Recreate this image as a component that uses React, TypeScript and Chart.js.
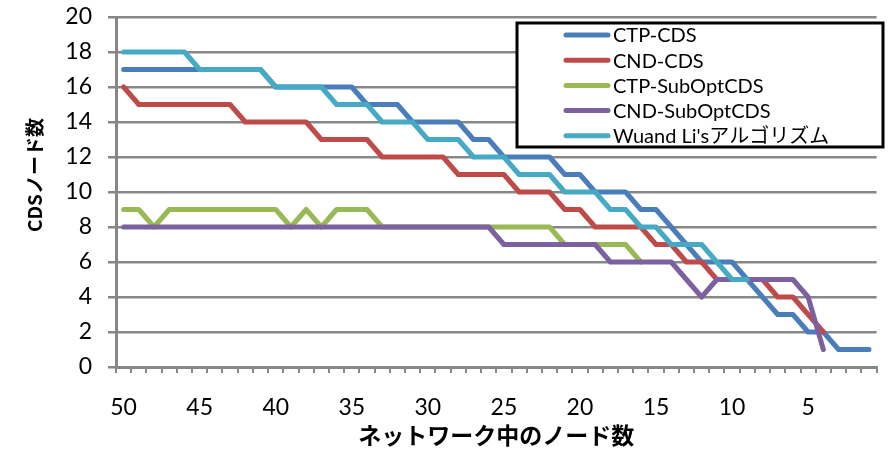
import React, { useEffect, useRef } from "react";
import { Chart, registerables } from "chart.js";

Chart.register(...registerables);

// ネットワーク中のノード数 (x categories, descending)
const nodeCounts = [
  50, 49, 48, 47, 46, 45, 44, 43, 42, 41,
  40, 39, 38, 37, 36, 35, 34, 33, 32, 31,
  30, 29, 28, 27, 26, 25, 24, 23, 22, 21,
  20, 19, 18, 17, 16, 15, 14, 13, 12, 11,
  10, 9, 8, 7, 6, 5, 4, 3, 2, 1,
];
const xTickLabels = [50, 45, 40, 35, 30, 25, 20, 15, 10, 5];
const yTickValues = [0, 2, 4, 6, 8, 10, 12, 14, 16, 18, 20];

const seriesNames = [
  "CTP-CDS",
  "CND-CDS",
  "CTP-SubOptCDS",
  "CND-SubOptCDS",
  "Wuand Li'sアルゴリズム",
];
const seriesColors = ["#4A7EBB", "#BE4B48", "#98B954", "#7D60A0", "#46AAC5"];

const ctpCds = [
  17, 17, 17, 17, 17, 17, 17, 17, 17, 17,
  16, 16, 16, 16, 16, 16, 15, 15, 15, 14,
  14, 14, 14, 13, 13, 12, 12, 12, 12, 11,
  11, 10, 10, 10, 9, 9, 8, 7, 6, 6,
  6, 5, 4, 3, 3, 2, 2, 1, 1, 1,
];
const cndCds = [
  16, 15, 15, 15, 15, 15, 15, 15, 14, 14,
  14, 14, 14, 13, 13, 13, 13, 12, 12, 12,
  12, 12, 11, 11, 11, 11, 10, 10, 10, 9,
  9, 8, 8, 8, 8, 7, 7, 6, 6, 5,
  5, 5, 5, 4, 4, 3, 2, null, null, null,
];
const ctpSubOpt = [
  9, 9, 8, 9, 9, 9, 9, 9, 9, 9,
  9, 8, 9, 8, 9, 9, 9, 8, 8, 8,
  8, 8, 8, 8, 8, 8, 8, 8, 8, 7,
  7, 7, 7, 7, 6, null, null, null, null, null,
  null, null, null, null, null, null, null, null, null, null,
];
const cndSubOpt = [
  8, 8, 8, 8, 8, 8, 8, 8, 8, 8,
  8, 8, 8, 8, 8, 8, 8, 8, 8, 8,
  8, 8, 8, 8, 8, 7, 7, 7, 7, 7,
  7, 7, 6, 6, 6, 6, 6, 5, 4, 5,
  5, 5, 5, 5, 5, 4, 1, null, null, null,
];
const wuLi = [
  18, 18, 18, 18, 18, 17, 17, 17, 17, 17,
  16, 16, 16, 16, 15, 15, 15, 14, 14, 14,
  13, 13, 13, 12, 12, 12, 11, 11, 11, 10,
  10, 10, 9, 9, 8, 8, 7, 7, 7, 6,
  5, 5, null, null, null, null, null, null, null, null,
];
const seriesValues = [ctpCds, cndCds, ctpSubOpt, cndSubOpt, wuLi];

const yTitle = "CDSノード数";
const xTitle = "ネットワーク中のノード数";

const GRID = "#878787";

const overlayPlugin = {
  id: "overlay",
  afterDraw(chart: any) {
    const ctx = chart.ctx as CanvasRenderingContext2D;
    ctx.save();
    // y axis title
    ctx.translate(35, 175);
    ctx.rotate(-Math.PI / 2);
    ctx.fillStyle = "#000";
    ctx.font = 'bold 19px "Noto Sans CJK JP"';
    ctx.textAlign = "center";
    ctx.textBaseline = "middle";
    ctx.fillText(yTitle, 0, 0);
    ctx.restore();

    // legend
    ctx.save();
    const bx = 517, by = 23, bw = 366, bh = 124;
    ctx.fillStyle = "#fff";
    ctx.fillRect(bx, by, bw, bh);
    ctx.lineWidth = 3;
    ctx.strokeStyle = "#000";
    ctx.strokeRect(bx, by, bw, bh);
    ctx.font = '20px Lato, "Noto Sans CJK JP"';
    ctx.textBaseline = "middle";
    ctx.textAlign = "left";
    seriesNames.forEach((name, i) => {
      const y = 35 + i * 25.2;
      ctx.strokeStyle = seriesColors[i];
      ctx.lineWidth = 5;
      ctx.lineCap = "round";
      ctx.beginPath();
      ctx.moveTo(566, y);
      ctx.lineTo(608, y);
      ctx.stroke();
      ctx.fillStyle = "#000";
      ctx.fillText(name, 613, y + 1);
    });
    ctx.restore();
  },
};

export default function App() {
  const canvasRef = useRef<HTMLCanvasElement | null>(null);

  useEffect(() => {
    document.body.style.margin = "0";
    const canvas = canvasRef.current;
    if (!canvas) return;
    const chart = new Chart(canvas, {
      type: "line",
      data: {
        labels: nodeCounts.map(String),
        datasets: seriesNames.map((name, i) => ({
          label: name,
          data: seriesValues[i],
          borderColor: seriesColors[i],
          backgroundColor: seriesColors[i],
          borderWidth: 5,
          pointRadius: 0,
          pointHoverRadius: 0,
          tension: 0,
          fill: false,
          spanGaps: false,
          borderJoinStyle: "round" as const,
          borderCapStyle: "round" as const,
          order: seriesNames.length - i,
        })),
      },
      options: {
        responsive: false,
        animation: false,
        devicePixelRatio: 1,
        layout: { padding: { left: 0, right: 2, top: 17, bottom: 0 } },
        plugins: {
          legend: { display: false },
          tooltip: { enabled: false },
        },
        scales: {
          x: {
            type: "category",
            offset: true,
            grid: {
              display: true,
              drawOnChartArea: false,
              drawTicks: true,
              tickLength: 6,
              offset: true,
              color: GRID,
              lineWidth: 2,
            },
            border: { display: true, color: GRID, width: 3 },
            ticks: {
              autoSkip: false,
              maxRotation: 0,
              minRotation: 0,
              padding: 21,
              color: "#000",
              font: { family: "Lato", size: 23 },
              callback: (_v: any, i: number) =>
                xTickLabels.includes(nodeCounts[i]) ? String(nodeCounts[i]) : "",
            },
            title: {
              display: true,
              text: xTitle,
              color: "#000",
              font: { family: '"Noto Sans CJK JP"', size: 23, weight: "bold" },
              padding: { top: 0, bottom: 2 },
            },
            afterFit: (s: any) => {
              s.height = 84;
            },
          },
          y: {
            min: 0,
            max: 20,
            afterBuildTicks: (s: any) => {
              s.ticks = yTickValues.map((v) => ({ value: v }));
            },
            grid: {
              color: GRID,
              lineWidth: 2.5,
              drawTicks: true,
              tickLength: 8,
            },
            border: { display: true, color: GRID, width: 3 },
            ticks: {
              padding: 16,
              color: "#000",
              font: { family: "Lato", size: 23 },
            },
            afterFit: (s: any) => {
              s.width = 116;
              s.paddingTop = 0;
              s.paddingBottom = 0;
            },
          },
        },
      },
      plugins: [overlayPlugin],
    });
    return () => chart.destroy();
  }, []);

  return (
    <div style={{ position: "absolute", left: 0, top: 0, width: 890, height: 451, background: "#fff" }}>
      <canvas ref={canvasRef} width={890} height={451} />
    </div>
  );
}
